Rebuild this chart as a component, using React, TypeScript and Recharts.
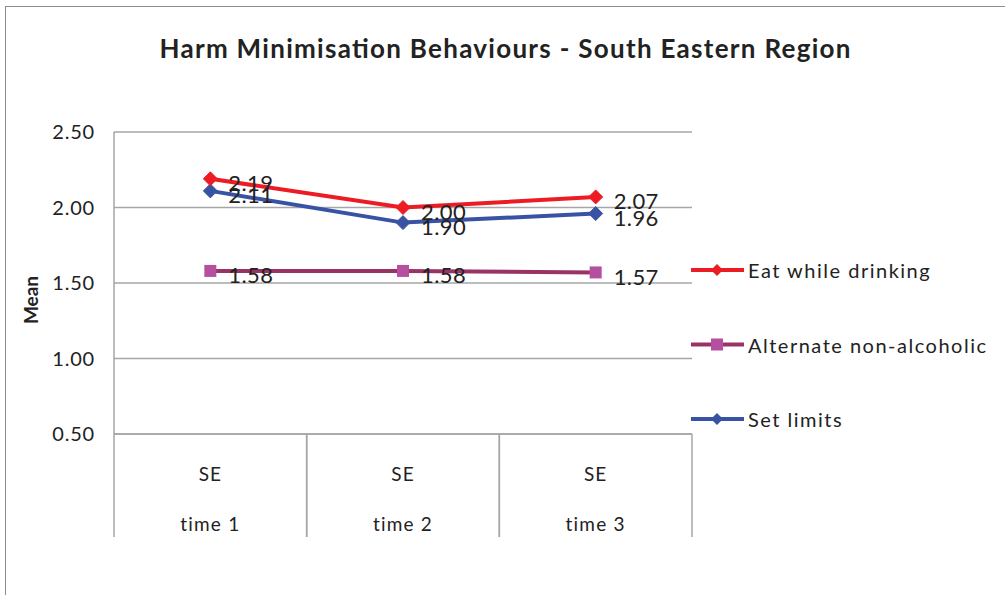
import React from "react";
import { LineChart, Line, XAxis, YAxis, CartesianGrid, Legend, LabelList } from "recharts";

const regions = ["SE", "SE", "SE"];
const times = ["time 1", "time 2", "time 3"];
const eatWhileDrinking = [2.19, 2.0, 2.07];
const alternateNonAlcoholic = [1.58, 1.58, 1.57];
const setLimits = [2.11, 1.9, 1.96];
const yTicks = [0.5, 1.0, 1.5, 2.0, 2.5];

const data = times.map((t, i) => ({
  key: t,
  region: regions[i],
  time: t,
  eat: eatWhileDrinking[i],
  alt: alternateNonAlcoholic[i],
  limits: setLimits[i],
}));

const W = 1005;
const H = 595;
const M = { top: 132, right: 313, bottom: 51, left: 54 };
const Y_W = 60;
const X_H = 110;
const plotW = W - M.left - Y_W - M.right;
const bandHalf = plotW / times.length / 2;

const FONT = "Lato, 'Open Sans', sans-serif";
const RED = "#ED1C24";
const BLUE = "#3953A4";
const PURPLE_LINE = "#993366";
const PURPLE_MARK = "#B54FA0";

const Diamond = (color: string) => (props: any) => {
  const { cx, cy, index } = props;
  if (cx == null || cy == null) return <g key={index} />;
  const r = 7;
  return (
    <polygon
      key={index}
      points={`${cx},${cy - r} ${cx + r},${cy} ${cx},${cy + r} ${cx - r},${cy}`}
      fill={color}
      stroke={color}
    />
  );
};

const Square = (color: string) => (props: any) => {
  const { cx, cy, index } = props;
  if (cx == null || cy == null) return <g key={index} />;
  const s = 6;
  return <rect key={index} x={cx - s} y={cy - s} width={2 * s} height={2 * s} fill={color} />;
};

const ValueLabel = (props: any) => {
  const { x, y, value } = props;
  return (
    <text x={x + 18} y={y + 4} dominantBaseline="central" fontSize={22} letterSpacing={0.4} fill="#222" fontFamily={FONT}>
      {Number(value).toFixed(2)}
    </text>
  );
};

const CategoryTick = (props: any) => {
  const { x, y, payload, index } = props;
  const i = payload.index ?? index;
  return (
    <g>
      <line x1={x - bandHalf} y1={y} x2={x - bandHalf} y2={y + 103} stroke="#A6A6A6" strokeWidth={1.5} />
      <line x1={x + bandHalf} y1={y} x2={x + bandHalf} y2={y + 103} stroke="#A6A6A6" strokeWidth={1.5} />
      <text x={x} y={y + 39} textAnchor="middle" dominantBaseline="central" fontSize={19} letterSpacing={1} fill="#222" fontFamily={FONT}>
        {regions[i]}
      </text>
      <text x={x} y={y + 89} textAnchor="middle" dominantBaseline="central" fontSize={19} letterSpacing={1.2} fill="#222" fontFamily={FONT}>
        {payload.value}
      </text>
    </g>
  );
};

const legendItems = [
  { name: "Eat while drinking", color: RED, mark: "diamond", markColor: RED },
  { name: "Alternate non-alcoholic", color: PURPLE_LINE, mark: "square", markColor: PURPLE_MARK },
  { name: "Set limits", color: BLUE, mark: "diamond", markColor: BLUE },
];

const LegendContent = () => (
  <svg width={310} height={200} style={{ display: "block" }}>
    {legendItems.map((it, i) => {
      const cy = 15 + i * 74.5;
      return (
        <g key={it.name}>
          <line x1={0} y1={cy} x2={53} y2={cy} stroke={it.color} strokeWidth={4} />
          {it.mark === "diamond" ? (
            <polygon points={`26,${cy - 6} 32,${cy} 26,${cy + 6} 20,${cy}`} fill={it.markColor} />
          ) : (
            <rect x={20} y={cy - 6} width={12} height={12} fill={it.markColor} />
          )}
          <text x={57} y={cy} dominantBaseline="central" fontSize={20} letterSpacing={1.5} fill="#222" fontFamily={FONT}>
            {it.name}
          </text>
        </g>
      );
    })}
  </svg>
);

export default function App() {
  return (
    <div style={{ position: "absolute", left: 0, top: 0, width: W, height: H, overflow: "hidden", background: "#fff" }}>
      <div
        style={{
          position: "absolute",
          left: 5,
          top: 6,
          width: 1100,
          height: 700,
          borderLeft: "1.5px solid #8C8C8C",
          borderTop: "1.5px solid #8C8C8C",
        }}
      />
      <div style={{ position: "absolute", left: 0, top: 0 }}>
        <LineChart width={W} height={H} data={data} margin={M}>
          <text
            x={505}
            y={48}
            textAnchor="middle"
            dominantBaseline="central"
            fontSize={26}
            fontWeight="bold"
            fill="#222"
            fontFamily={FONT}
            textLength={691}
            lengthAdjust="spacing"
          >
            Harm Minimisation Behaviours - South Eastern Region
          </text>
          <text
            x={30}
            y={300}
            textAnchor="middle"
            dominantBaseline="central"
            fontSize={19}
            fontWeight="bold"
            fill="#222"
            fontFamily={FONT}
            transform="rotate(-90 30 300)"
          >
            Mean
          </text>
          <CartesianGrid horizontal={true} vertical={false} stroke="#A6A6A6" strokeWidth={1.5} />
          <XAxis
            dataKey="key"
            scale="band"
            height={X_H}
            tickLine={false}
            tickSize={0}
            tickMargin={0}
            axisLine={{ stroke: "#A6A6A6", strokeWidth: 1.5 }}
            tick={<CategoryTick />}
            interval={0}
          />
          <YAxis
            width={Y_W}
            domain={[0.5, 2.5]}
            ticks={yTicks}
            tickFormatter={(v: number) => v.toFixed(2)}
            tickLine={false}
            tickSize={0}
            tickMargin={19}
            axisLine={{ stroke: "#A6A6A6", strokeWidth: 1.5 }}
            tick={{ fontSize: 20, fill: "#222", fontFamily: FONT, letterSpacing: 0.8 }}
          />
          <Legend
            layout="horizontal"
            align="center"
            verticalAlign="middle"
            content={<LegendContent />}
            wrapperStyle={{ position: "absolute", left: 691, top: 255, width: 310 }}
          />
          <Line
            dataKey="alt"
            name="Alternate non-alcoholic"
            stroke={PURPLE_LINE}
            strokeWidth={4}
            dot={Square(PURPLE_MARK)}
            activeDot={false}
            isAnimationActive={false}
          >
            <LabelList dataKey="alt" content={<ValueLabel />} />
          </Line>
          <Line
            dataKey="limits"
            name="Set limits"
            stroke={BLUE}
            strokeWidth={4}
            dot={Diamond(BLUE)}
            activeDot={false}
            isAnimationActive={false}
          >
            <LabelList dataKey="limits" content={<ValueLabel />} />
          </Line>
          <Line
            dataKey="eat"
            name="Eat while drinking"
            stroke={RED}
            strokeWidth={4}
            dot={Diamond(RED)}
            activeDot={false}
            isAnimationActive={false}
          >
            <LabelList dataKey="eat" content={<ValueLabel />} />
          </Line>
        </LineChart>
      </div>
    </div>
  );
}
